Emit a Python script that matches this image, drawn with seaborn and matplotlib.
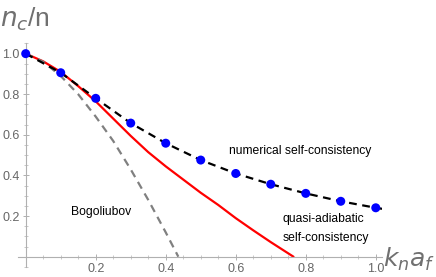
import matplotlib
matplotlib.use("Agg")
import matplotlib.pyplot as plt
import seaborn as sns
import numpy as np
import pandas as pd
from matplotlib.ticker import MultipleLocator, FixedLocator

# --- data ---
num_x = [0.0, 0.1, 0.2, 0.3, 0.4, 0.5, 0.6, 0.7, 0.8, 0.9, 1.0]
num_y = [1.0, 0.906, 0.780, 0.658, 0.559, 0.476, 0.410, 0.357, 0.312, 0.273, 0.241]

line_x = [0.0, 0.1, 0.2, 0.3, 0.4, 0.5, 0.6, 0.7, 0.8, 0.9, 1.0, 1.018]
line_y = [1.0, 0.906, 0.780, 0.658, 0.559, 0.476, 0.410, 0.357, 0.312, 0.273, 0.241, 0.236]

qa_x = [0.0, 0.05, 0.1, 0.15, 0.2, 0.25, 0.3, 0.35, 0.4, 0.45, 0.5, 0.55, 0.6, 0.65, 0.7, 0.765]
qa_y = [1.0, 0.962, 0.91, 0.84, 0.765, 0.68, 0.595, 0.515, 0.445, 0.38, 0.315, 0.255, 0.19, 0.13, 0.072, 0.0]

bog_x = [0.0, 0.05, 0.1, 0.15, 0.2, 0.25, 0.3, 0.35, 0.4, 0.436]
bog_y = [1.0, 0.96, 0.89, 0.80, 0.69, 0.57, 0.43, 0.28, 0.12, 0.0]

x_ticks = [0.2, 0.4, 0.6, 0.8, 1.0]
y_ticks = [0.2, 0.4, 0.6, 0.8, 1.0]
x_tick_labels = ["0.2", "0.4", "0.6", "0.8", "1.0"]
y_tick_labels = ["0.2", "0.4", "0.6", "0.8", "1.0"]

sns.set_theme(style="white")
plt.rcParams['font.family'] = ['Liberation Sans', 'DejaVu Sans']
plt.rcParams['mathtext.fontset'] = 'dejavusans'

fig = plt.figure(figsize=(4.36, 2.77), dpi=100)
ax = fig.add_axes([0.0413, 0.0365, 0.835, 0.8065])

df_qa = pd.DataFrame({"x": qa_x, "y": qa_y})
df_bog = pd.DataFrame({"x": bog_x, "y": bog_y})
df_line = pd.DataFrame({"x": line_x, "y": line_y})
df_num = pd.DataFrame({"x": num_x, "y": num_y})

sns.lineplot(data=df_qa, x="x", y="y", ax=ax, color="#ff0000", lw=1.6, sort=False)
sns.lineplot(data=df_bog, x="x", y="y", ax=ax, color="#808080", lw=1.6,
             sort=False, linestyle=(0, (3.5, 2.5)))
sns.lineplot(data=df_line, x="x", y="y", ax=ax, color="black", lw=1.6,
             sort=False, linestyle=(0, (3.5, 2.5)))
sns.scatterplot(data=df_num, x="x", y="y", ax=ax, color="#0000ff", s=42,
                edgecolor="none", zorder=5)

ax.set_xlim(-0.022, 1.018)
ax.set_ylim(-0.05, 1.05)

for s in ["top", "right"]:
    ax.spines[s].set_visible(False)
ax.spines["left"].set_position(("data", 0))
ax.spines["bottom"].set_position(("data", 0))
for s in ["left", "bottom"]:
    ax.spines[s].set_color("#b0b0b0")
    ax.spines[s].set_linewidth(0.8)

ax.xaxis.set_major_locator(FixedLocator(x_ticks))
ax.yaxis.set_major_locator(FixedLocator(y_ticks))
ax.set_xticklabels(x_tick_labels)
ax.set_yticklabels(y_tick_labels)
ax.xaxis.set_minor_locator(MultipleLocator(0.05))
ax.yaxis.set_minor_locator(MultipleLocator(0.05))
ax.tick_params(which="major", direction="inout", length=5, width=0.7,
               color="#b0b0b0", labelsize=9, labelcolor="#666666", pad=2,
               bottom=True, left=True)
ax.tick_params(which="minor", direction="inout", length=3, width=0.6,
               color="#c0c0c0", bottom=True, left=True)
ax.set_xlabel("")
ax.set_ylabel("")

fig.text(0.0, 0.93, r"$n_c$/n", fontsize=19, color="#707070", ha="left", va="center")
fig.text(0.879, 0.065, r"$k_n a_f$", fontsize=18, color="#707070", ha="left", va="center")

fs = 8.7
ax.text(0.215, 0.222, "Bogoliubov", fontsize=fs, color="black", ha="center", va="center")
ax.text(0.784, 0.521, "numerical self-consistency", fontsize=fs, color="black",
        ha="center", va="center")
ax.text(0.734, 0.186, "quasi-adiabatic", fontsize=fs, color="black", ha="left", va="center")
ax.text(0.734, 0.094, "self-consistency", fontsize=fs, color="black", ha="left", va="center")

fig.savefig("out.png", dpi=100)
